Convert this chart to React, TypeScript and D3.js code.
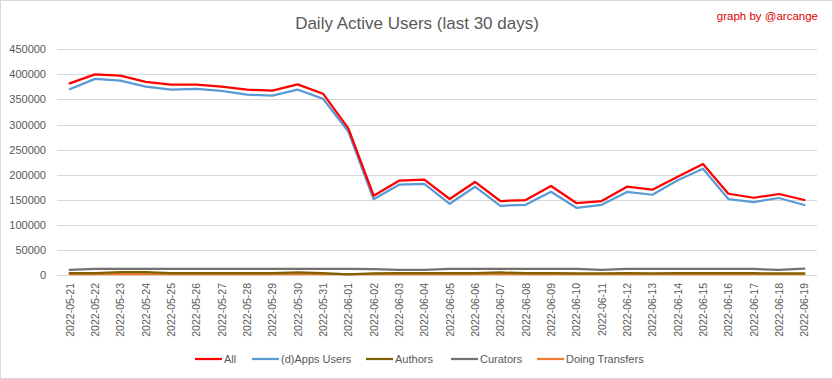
import React from "react";
import * as d3 from "d3";

const dates = [
  "2022-05-21","2022-05-22","2022-05-23","2022-05-24","2022-05-25","2022-05-26","2022-05-27","2022-05-28","2022-05-29","2022-05-30",
  "2022-05-31","2022-06-01","2022-06-02","2022-06-03","2022-06-04","2022-06-05","2022-06-06","2022-06-07","2022-06-08","2022-06-09",
  "2022-06-10","2022-06-11","2022-06-12","2022-06-13","2022-06-14","2022-06-15","2022-06-16","2022-06-17","2022-06-18","2022-06-19",
];

const allUsers = [
  382000, 400000, 397500, 385000, 379500, 379500, 375500, 369500, 367500, 380000,
  361500, 292500, 158000, 188000, 190000, 151500, 185500, 147500, 149500, 177500,
  143500, 147500, 176000, 170000, 196000, 221500, 162000, 154000, 161500, 149500,
];

const appsUsers = [
  370500, 391000, 387500, 375500, 369500, 371000, 367000, 359500, 357500, 369500,
  351500, 286000, 151000, 180000, 181500, 142000, 176000, 138000, 140000, 166000,
  134000, 140000, 165500, 160000, 189000, 212000, 151500, 145500, 153500, 139500,
];

const authors = [
  3500, 3800, 5500, 5500, 3800, 3600, 3600, 3500, 3600, 5000,
  3600, 1200, 3400, 3500, 3500, 3500, 3600, 5000, 3600, 3500,
  3400, 3400, 3500, 3400, 3500, 3500, 3500, 3500, 3400, 3400,
];

const curators = [
  10000, 12000, 12000, 12000, 12000, 12000, 12000, 12000, 12000, 12000,
  12000, 12000, 11500, 10000, 10000, 12000, 12000, 12000, 12000, 12000,
  12000, 10000, 12000, 12000, 12000, 12000, 12000, 12000, 10000, 12500,
];

const transfers = [
  1800, 1800, 1800, 1800, 1800, 1800, 1800, 1800, 1800, 1800,
  1800, 1800, 1800, 1800, 1800, 1800, 1800, 1800, 1800, 1800,
  1800, 1800, 1800, 1800, 1800, 1800, 1800, 1800, 1800, 1800,
];

const yTicks = [0, 50000, 100000, 150000, 200000, 250000, 300000, 350000, 400000, 450000];

const seriesNames = ["All", "(d)Apps Users", "Authors", "Curators", "Doing Transfers"];
const seriesValues = [allUsers, appsUsers, authors, curators, transfers];
const seriesColors = ["#FF0000", "#5B9BD5", "#7F6000", "#767171", "#ED7D31"];

const W = 833;
const H = 379;
const FONT = "'Liberation Sans', Arial, sans-serif";

export default function App() {
  const x = d3.scalePoint<string>().domain(dates).range([57, 817]).padding(0.5);
  const y = d3.scaleLinear().domain([0, 450000]).range([275, 49.3]);

  const line = d3
    .line<number>()
    .x((_, i) => x(dates[i]) as number)
    .y((v) => y(v));

  const drawOrder = [4, 3, 2, 1, 0];
  const legendX = [195, 252, 366, 451, 537];

  return (
    <svg
      width={W}
      height={H}
      style={{ position: "absolute", left: 0, top: 0, background: "#fff" }}
      fontFamily={FONT}
    >
      <rect x={0.5} y={0.5} width={W - 1} height={H - 1} fill="#fff" stroke="#D9D9D9" />
      <text x={417} y={29} textAnchor="middle" fontSize={17} fill="#595959">
        Daily Active Users (last 30 days)
      </text>
      <text x={818} y={20} textAnchor="end" fontSize={11.5} fill="#E00000">
        graph by @arcange
      </text>

      {yTicks.map((t) => (
        <g key={t}>
          <line x1={57} x2={817} y1={Math.round(y(t)) + 0.5} y2={Math.round(y(t)) + 0.5} stroke="#D9D9D9" strokeWidth={1} />
          <text x={46} y={y(t) + 4} textAnchor="end" fontSize={11} fill="#595959">
            {t}
          </text>
        </g>
      ))}

      {dates.map((d) => {
        const px = x(d) as number;
        return (
          <text
            key={d}
            transform={`translate(${px + 4},283) rotate(-90)`}
            textAnchor="end"
            fontSize={10.5}
            fill="#595959"
          >
            {d}
          </text>
        );
      })}

      {drawOrder.map((si) => (
        <path
          key={seriesNames[si]}
          d={line(seriesValues[si]) || ""}
          fill="none"
          stroke={seriesColors[si]}
          strokeWidth={2.25}
          strokeLinejoin="round"
          strokeLinecap="round"
        />
      ))}

      {seriesNames.map((name, i) => (
        <g key={name}>
          <line x1={legendX[i]} x2={legendX[i] + 27} y1={359} y2={359} stroke={seriesColors[i]} strokeWidth={2.25} />
          <text x={legendX[i] + 29} y={363} fontSize={11} fill="#595959">
            {name}
          </text>
        </g>
      ))}
    </svg>
  );
}
